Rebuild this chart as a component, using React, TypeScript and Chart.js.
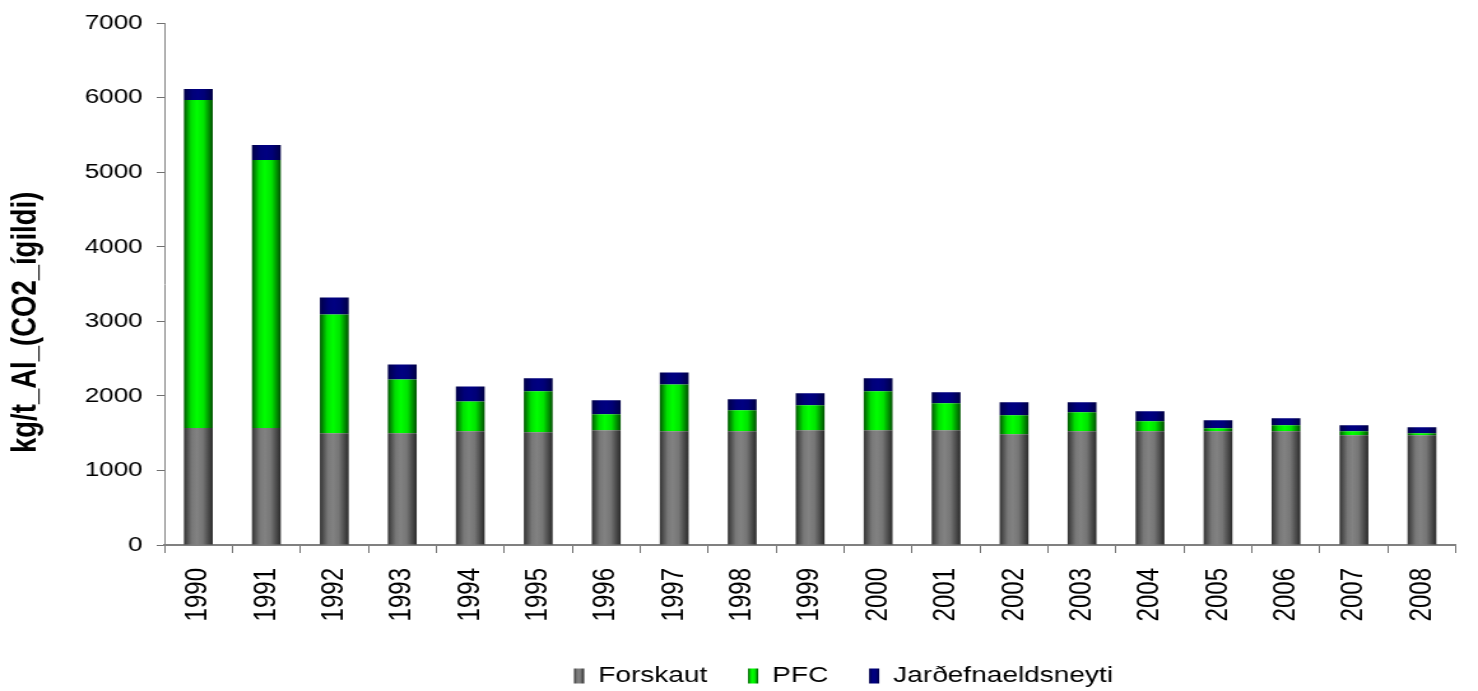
import React, { useEffect, useRef } from "react";
import { Chart, registerables } from "chart.js";

Chart.register(...registerables);

const years = ["1990","1991","1992","1993","1994","1995","1996","1997","1998","1999","2000","2001","2002","2003","2004","2005","2006","2007","2008"];
const forskaut = [1570,1570,1500,1500,1526,1513,1540,1526,1526,1540,1540,1540,1486,1526,1526,1526,1526,1473,1473];
const pfc = [4400,3597,1592,722,400,549,214,629,281,334,522,361,254,254,134,40,80,53,27];
const jardefna = [150,200,228,200,200,174,187,161,147,161,174,147,174,134,134,107,94,80,80];

const seriesNames = ["Forskaut", "PFC", "Jarðefnaeldsneyti"];
const yTitle = "kg/t_Al_(CO2_ígildi)";

const W = 1160;
const H = 691;
const CSS_W = 1478;
const BAR_PCT = 0.424;
const LEGEND_BOX_W = 8;
const LEGEND_DX = 84;
const LEGEND_DY = 6;

type Stops = [number, string][];
const grayStops: Stops = [[0, "#333333"], [0.28, "#787878"], [0.45, "#828282"], [0.65, "#767676"], [1, "#2a2a2a"]];
const greenStops: Stops = [[0, "#005800"], [0.25, "#00e000"], [0.45, "#00ff00"], [0.68, "#00e400"], [1, "#005000"]];
const blueStops: Stops = [[0, "#000048"], [0.3, "#00007a"], [0.5, "#000082"], [0.7, "#000078"], [1, "#000044"]];
const allStops = [grayStops, greenStops, blueStops];

function grad(ctx: CanvasRenderingContext2D, x0: number, x1: number, stops: Stops) {
  if (!Number.isFinite(x0) || !Number.isFinite(x1) || x1 <= x0) return stops[2][1];
  const g = ctx.createLinearGradient(x0, 0, x1, 0);
  stops.forEach(([o, c]) => g.addColorStop(o, c));
  return g;
}

function barFill(stops: Stops) {
  return (c: any) => {
    const chart = c.chart;
    const xs = chart.scales && chart.scales.x;
    if (!xs || c.dataIndex === undefined || !Number.isFinite(xs.width)) return stops[2][1];
    const cx = xs.getPixelForValue(c.dataIndex);
    const w = (xs.width / years.length) * BAR_PCT;
    return grad(chart.ctx, cx - w / 2, cx + w / 2, stops);
  };
}

const legendPlugin = {
  id: "legendTweak",
  afterLayout(chart: any) {
    const l = chart.legend;
    if (!l) return;
    l.left += LEGEND_DX;
    l.right += LEGEND_DX;
    l.top += LEGEND_DY;
    l.bottom += LEGEND_DY;
  },
  beforeDraw(chart: any) {
    const l = chart.legend;
    if (!l || !l.legendItems || !l.legendHitBoxes) return;
    l.legendItems.forEach((item: any, i: number) => {
      const hb = l.legendHitBoxes[i];
      if (!hb) return;
      const st = allStops[item.datasetIndex] || grayStops;
      item.fillStyle = grad(chart.ctx, hb.left, hb.left + LEGEND_BOX_W, st);
    });
  },
};

export default function App() {
  const ref = useRef<HTMLCanvasElement | null>(null);
  useEffect(() => {
    document.body.style.margin = "0";
    const canvas = ref.current;
    if (!canvas) return;
    Chart.defaults.font.family = "Arial, 'Liberation Sans', sans-serif";
    Chart.defaults.color = "#000";
    const chart = new Chart(canvas, {
      type: "bar",
      data: {
        labels: years,
        datasets: [
          { label: seriesNames[0], data: forskaut, backgroundColor: barFill(grayStops), borderWidth: 0 },
          { label: seriesNames[1], data: pfc, backgroundColor: barFill(greenStops), borderWidth: 0 },
          { label: seriesNames[2], data: jardefna, backgroundColor: barFill(blueStops), borderWidth: 0 },
        ],
      },
      options: {
        responsive: false,
        animation: false,
        devicePixelRatio: 1,
        layout: { padding: { left: 4, right: 8, top: 22, bottom: 0 } },
        datasets: { bar: { categoryPercentage: 1, barPercentage: BAR_PCT } },
        plugins: {
          tooltip: { enabled: false },
          legend: {
            position: "bottom",
            labels: {
              boxWidth: LEGEND_BOX_W,
              boxHeight: 15,
              padding: 32,
              color: "#000",
              font: { size: 22 },
            },
          },
        },
        scales: {
          x: {
            stacked: true,
            grid: { drawOnChartArea: false, drawTicks: true, tickLength: 8, color: "#707070", offset: true },
            border: { display: true, color: "#808080", width: 2 },
            ticks: { minRotation: 90, maxRotation: 90, autoSkip: false, padding: 15, color: "#000", font: { size: 24 } },
            afterFit: (s: any) => { s.height = 82; },
          },
          y: {
            stacked: true,
            min: 0,
            max: 7000,
            grid: { drawOnChartArea: false, drawTicks: true, tickLength: 6, color: "#707070" },
            border: { display: true, color: "#808080", width: 1 },
            ticks: {
              stepSize: 1000,
              padding: 11,
              color: "#000",
              font: { size: 20.5 },
              callback: (v: any) => String(v),
            },
            title: {
              display: true,
              text: yTitle + "          ",
              color: "#000",
              font: { size: 27.5, weight: "bold" },
              padding: { top: 0, bottom: 0 },
            },
            afterFit: (s: any) => { s.width = 125; },
          },
        },
      },
      plugins: [legendPlugin],
    });
    return () => chart.destroy();
  }, []);
  return (
    <canvas
      ref={ref}
      width={W}
      height={H}
      style={{ display: "block", width: CSS_W + "px", height: H + "px" }}
    />
  );
}
